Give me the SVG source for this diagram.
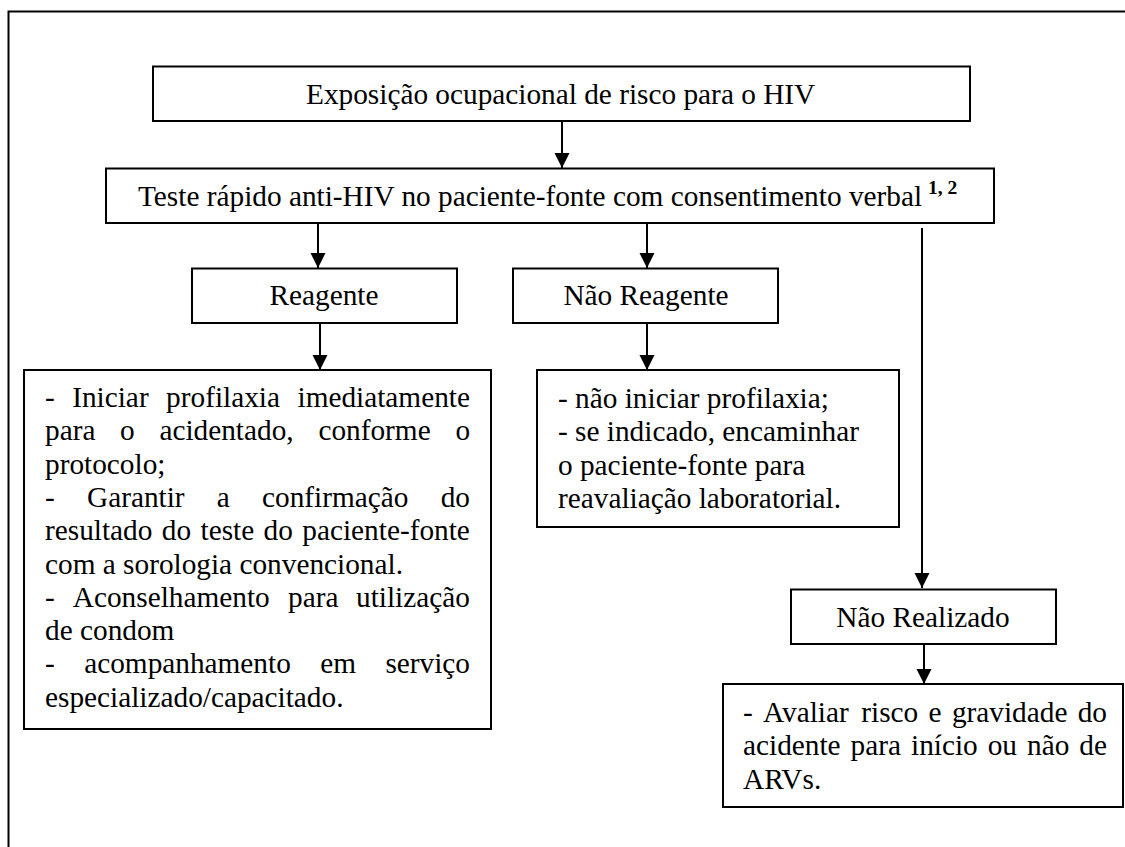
<svg xmlns="http://www.w3.org/2000/svg" width="1125" height="847" viewBox="0 0 1125 847">
<style>
.box{fill:#fff;stroke:#000;stroke-width:2}
.t{font-family:"Liberation Serif","Times New Roman",serif;font-size:29.3px;fill:#000}
.c{text-anchor:middle}
.e{text-anchor:end}
.sup{font-family:"Liberation Serif","Times New Roman",serif;font-size:19.5px;font-weight:bold;fill:#000}
.ln{stroke:#000;stroke-width:2;fill:none}
</style>
<defs>
<marker id="ah" markerUnits="userSpaceOnUse" markerWidth="16" markerHeight="16" refX="15" refY="7.5" orient="auto">
<path d="M0,0 L15,7.5 L0,15 z" fill="#000"/>
</marker>
</defs>
<rect width="1125" height="847" fill="#fff"/>
<path class="ln" d="M8.5,847 V11.5 H1125"/>
<g id="connectors">
<line class="ln" x1="562" y1="121" x2="562" y2="168" marker-end="url(#ah)"/>
<line class="ln" x1="318" y1="223" x2="318" y2="268" marker-end="url(#ah)"/>
<line class="ln" x1="647" y1="223" x2="647" y2="268" marker-end="url(#ah)"/>
<line class="ln" x1="922" y1="228" x2="922" y2="588" marker-end="url(#ah)"/>
<line class="ln" x1="320" y1="323" x2="320" y2="370" marker-end="url(#ah)"/>
<line class="ln" x1="647" y1="323" x2="647" y2="370" marker-end="url(#ah)"/>
<line class="ln" x1="924" y1="644" x2="924" y2="684" marker-end="url(#ah)"/>
</g>
<g id="n1">
<rect class="box" x="153" y="66.5" width="817" height="54.5"/>
<text class="t" x="306" y="104">Exposição ocupacional de risco para o HIV</text>
</g>
<g id="n2">
<rect class="box" x="106" y="168.5" width="888" height="54.5"/>
<text class="t" x="138" y="206">Teste rápido anti-HIV no paciente-fonte com consentimento verbal</text>
<text class="sup" x="928" y="194">1, 2</text>
</g>
<g id="n3">
<rect class="box" x="192" y="268.5" width="265" height="54.5"/>
<text class="t c" x="324" y="305">Reagente</text>
</g>
<g id="n4">
<rect class="box" x="513" y="268.5" width="265" height="54.5"/>
<text class="t c" x="646" y="305">Não Reagente</text>
</g>
<g id="n5">
<rect class="box" x="24" y="370" width="467" height="359"/>
<text class="t" y="407"><tspan x="45">-</tspan><tspan x="72.2">Iniciar</tspan><tspan x="166.1">profilaxia</tspan><tspan x="297.5">imediatamente</tspan></text>
<text class="t" y="440.3"><tspan x="45">para</tspan><tspan x="120.1">o</tspan><tspan x="159.4">acidentado,</tspan><tspan x="318.4">conforme</tspan><tspan x="455.4">o</tspan></text>
<text class="t" x="45" y="473.6">protocolo;</text>
<text class="t" y="506.9"><tspan x="45">-</tspan><tspan x="87">Garantir</tspan><tspan x="216.8">a</tspan><tspan x="262">confirmação</tspan><tspan x="440.7">do</tspan></text>
<text class="t" y="540.2"><tspan x="45">resultado</tspan><tspan x="161.8">do</tspan><tspan x="200.5">teste</tspan><tspan x="263.6">do</tspan><tspan x="302.3">paciente-fonte</tspan></text>
<text class="t" x="45" y="573.5">com a sorologia convencional.</text>
<text class="t" y="606.8"><tspan x="45">-</tspan><tspan x="72.8">Aconselhamento</tspan><tspan x="288">para</tspan><tspan x="356">utilização</tspan></text>
<text class="t" x="45" y="640.1">de condom</text>
<text class="t" y="673.4"><tspan x="45">-</tspan><tspan x="84.2">acompanhamento</tspan><tspan x="320.3">em</tspan><tspan x="385.4">serviço</tspan></text>
<text class="t" x="45" y="706.7">especializado/capacitado.</text>
</g>
<g id="n6">
<rect class="box" x="537" y="370" width="362" height="157"/>
<text class="t" x="558" y="408">- não iniciar profilaxia;</text>
<text class="t" x="558" y="441.3">- se indicado, encaminhar</text>
<text class="t" x="558" y="474.6">o paciente-fonte para</text>
<text class="t" x="558" y="507.9">reavaliação laboratorial.</text>
</g>
<g id="n7">
<rect class="box" x="791" y="589.5" width="265" height="54.5"/>
<text class="t c" x="923" y="627">Não Realizado</text>
</g>
<g id="n8">
<rect class="box" x="723" y="684" width="400" height="123"/>
<text class="t" y="722"><tspan x="743">-</tspan><tspan x="763.1">Avaliar</tspan><tspan x="861.3">risco</tspan><tspan x="928.6">e</tspan><tspan x="951.9">gravidade</tspan><tspan x="1077.7">do</tspan></text>
<text class="t" y="755.3"><tspan x="743">acidente</tspan><tspan x="850.6">para</tspan><tspan x="911">início</tspan><tspan x="987.7">ou</tspan><tspan x="1027">não</tspan><tspan x="1079.3">de</tspan></text>
<text class="t" x="743" y="788.6">ARVs.</text>
</g>
</svg>
